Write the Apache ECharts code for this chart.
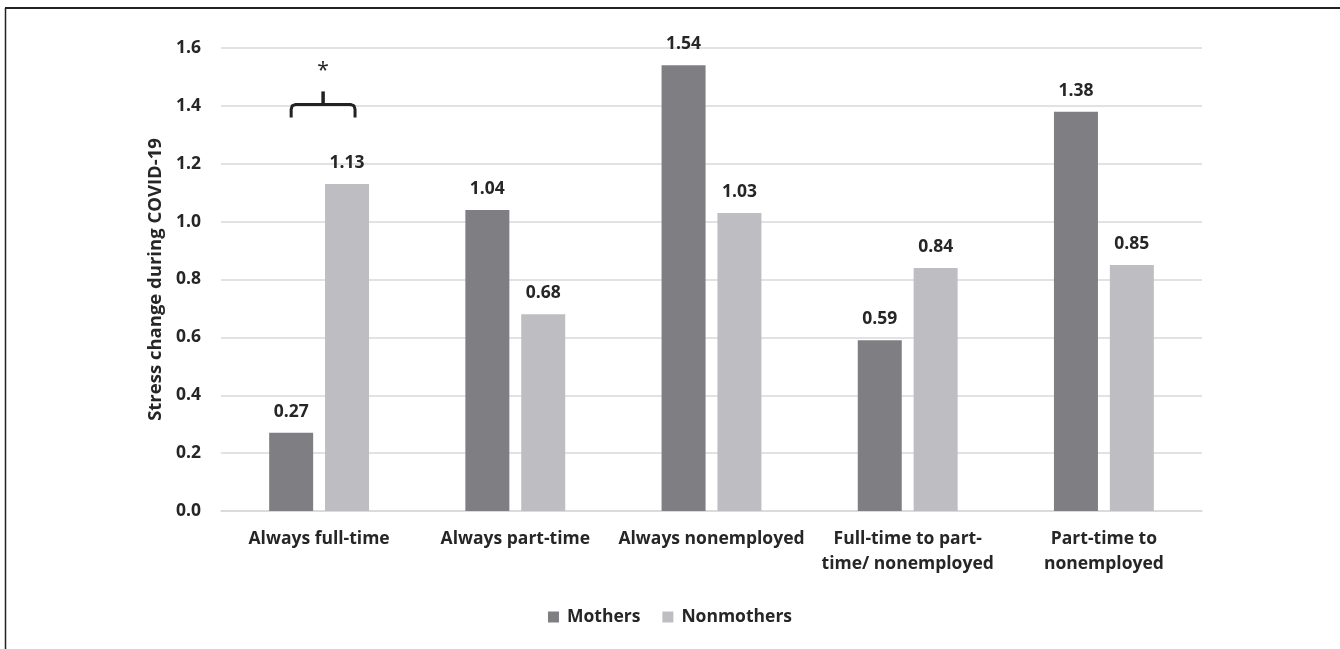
<!DOCTYPE html>
<html>
<head>
<meta charset="utf-8">
<script src="https://cdn.jsdelivr.net/npm/echarts@6/dist/echarts.min.js"></script>
<style>
html,body{margin:0;padding:0;background:#fff;}
#c{width:1340px;height:649px;}
</style>
</head>
<body>
<div id="c"></div>
<script>
var categories = ['Always full-time', 'Always part-time', 'Always nonemployed', 'Full-time to part-\ntime/ nonemployed', 'Part-time to\nnonemployed'];
var mothers = [0.27, 1.04, 1.54, 0.59, 1.38];
var nonmothers = [1.13, 0.68, 1.03, 0.84, 0.85];
var yTicks = [0, 0.2, 0.4, 0.6, 0.8, 1.0, 1.2, 1.4, 1.6];

var FONT = '"Open Sans", sans-serif';
var FS = 17.5;
var chart = echarts.init(document.getElementById('c'), null, {renderer: 'canvas'});
var labelStyle = {
  show: true, position: 'top', distance: 12,
  formatter: function (p) { return p.value.toFixed(2); },
  fontFamily: FONT, fontWeight: 'bold', fontSize: FS, color: '#262626'
};
chart.setOption({
  animation: false,
  backgroundColor: '#fff',
  grid: {left: 221, right: 138, top: 48, bottom: 138},
  legend: {
    data: ['Mothers', 'Nonmothers'],
    bottom: 18, left: 'center',
    itemWidth: 11, itemHeight: 11, itemGap: 22,
    icon: 'rect',
    textStyle: {fontFamily: FONT, fontWeight: 'bold', fontSize: FS, color: '#262626', padding: [0, 0, 0, 3]}
  },
  xAxis: {
    type: 'category', data: categories,
    axisLine: {lineStyle: {color: '#d9d9d9', width: 1.5}},
    axisTick: {show: false},
    axisLabel: {fontFamily: FONT, fontWeight: 'bold', fontSize: FS, color: '#262626', lineHeight: 25, margin: 16, interval: 0}
  },
  yAxis: {
    type: 'value', min: 0, max: 1.6, interval: 0.2,
    name: 'Stress change during COVID-19', nameLocation: 'middle', nameGap: 55,
    nameTextStyle: {fontFamily: FONT, fontWeight: 'bold', fontSize: 18.5, color: '#262626'},
    axisLine: {show: false}, axisTick: {show: false},
    splitLine: {lineStyle: {color: '#d9d9d9', width: 1.5}},
    axisLabel: {fontFamily: FONT, fontWeight: 'bold', fontSize: FS, color: '#262626', margin: 20,
      formatter: function (v) { return v.toFixed(1); }}
  },
  series: [
    {name: 'Mothers', type: 'bar', data: mothers, barWidth: 44, barGap: '27%',
      itemStyle: {color: '#7f7f83'}, label: labelStyle},
    {name: 'Nonmothers', type: 'bar', data: nonmothers, barWidth: 44, barGap: '27%',
      itemStyle: {color: '#bebec2'}, label: labelStyle}
  ]
});

// significance bracket over first category
function drawBracket() {
  var l0 = chart.getModel().getSeriesByIndex(0).getData().getItemLayout(0);
  var l1 = chart.getModel().getSeriesByIndex(1).getData().getItemLayout(0);
  var x0 = l0.x + l0.width / 2, x1 = l1.x + l1.width / 2 + 8;
  var xm = (x0 + x1) / 2;
  var yH = chart.convertToPixel({yAxisIndex: 0}, 1.405);
  var yEnd = chart.convertToPixel({yAxisIndex: 0}, 1.36);
  var yTop = chart.convertToPixel({yAxisIndex: 0}, 1.45);
  var yStar = chart.convertToPixel({yAxisIndex: 0}, 1.52);
  var r = 5;
  var pts = [
    [x0, yEnd], [x0, yH + r], [x0 + 1, yH + 1.5], [x0 + 3.5, yH + 0.3], [x0 + r, yH],
    [x1 - r, yH], [x1 - 3.5, yH + 0.3], [x1 - 1, yH + 1.5], [x1, yH + r], [x1, yEnd]
  ];
  chart.setOption({
    graphic: [
      {type: 'line', shape: {x1: 5.5, y1: 8, x2: 5.5, y2: 649}, style: {stroke: '#222', lineWidth: 1.5}},
      {type: 'line', shape: {x1: 5, y1: 8, x2: 1340, y2: 8}, style: {stroke: '#222', lineWidth: 2}},
      {type: 'polyline', shape: {points: pts}, style: {stroke: '#222', lineWidth: 3, fill: null, lineJoin: 'round'}},
      {type: 'line', shape: {x1: xm, y1: yTop, x2: xm, y2: yH}, style: {stroke: '#222', lineWidth: 3.5}},
      {type: 'text', x: xm, y: yStar, style: {text: '*', font: '21px ' + FONT, fill: '#222', align: 'center', verticalAlign: 'middle'}}
    ]
  });
}
drawBracket();
</script>
</body>
</html>
